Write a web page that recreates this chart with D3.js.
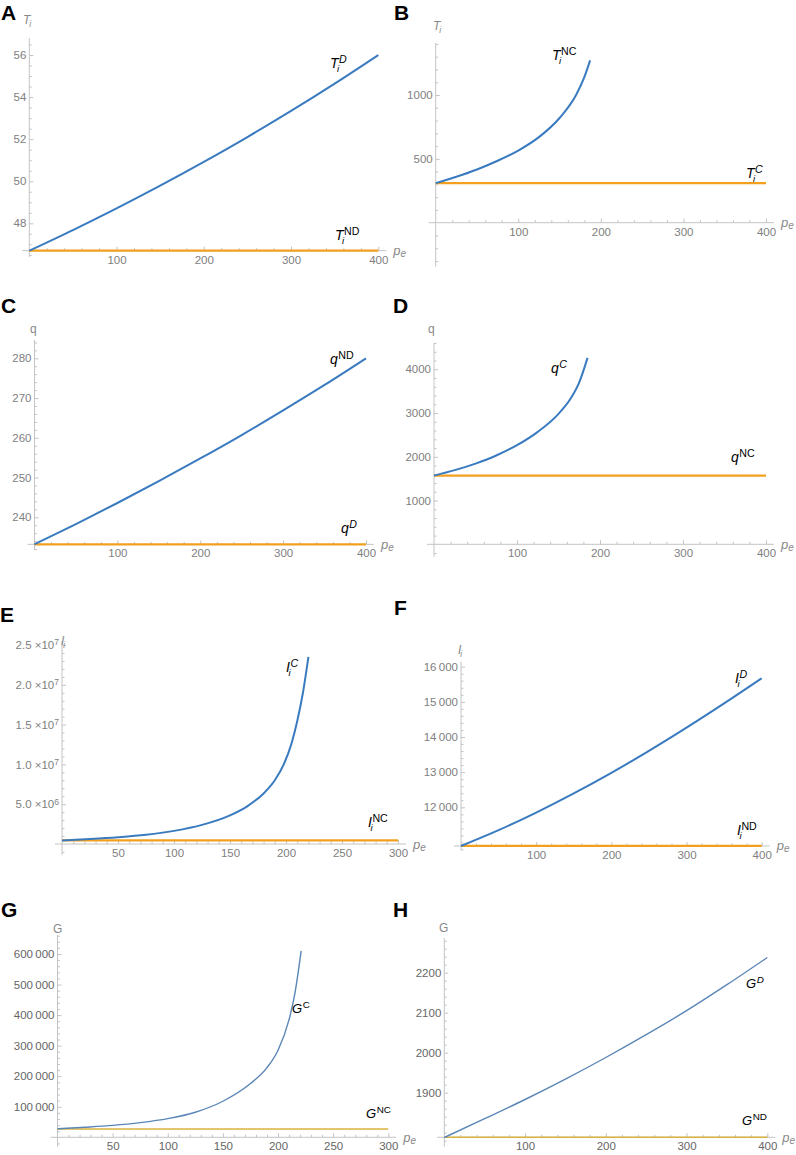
<!DOCTYPE html>
<html>
<head>
<meta charset="utf-8">
<script src="https://cdnjs.cloudflare.com/ajax/libs/d3/7.8.5/d3.min.js"></script>
<style>
  body { margin: 0; background: #fff; }
  svg { font-family: "Liberation Sans", Arial, sans-serif; }
</style>
</head>
<body>
<script>
// ---- values ----
// A: T_i vs p_e
var peA = [0, 50, 100, 150, 200, 250, 300, 350, 400];
var TiD = [46.7, 47.68, 48.71, 49.79, 50.92, 52.10, 53.34, 54.64, 56.0];
var TiND = 46.7;
// B
var peB = [0, 25, 50, 75, 100, 125, 150, 170, 180, 187];
var TiNC = [310, 360, 417, 485, 565, 670, 820, 1000, 1140, 1271];
var TiC = 310;
// C: q
var peC = [0, 50, 100, 150, 200, 250, 300, 350, 400];
var qND = [233.2, 238.3, 243.6, 249.1, 254.8, 260.7, 266.9, 273.3, 280.0];
var qD = 233.2;
// D
var peD = [0, 25, 50, 75, 100, 125, 150, 165, 175, 185];
var qC = [1570, 1695, 1845, 2030, 2265, 2570, 2982, 3342, 3702, 4262];
var qNC = 1570;
// E: I_i
var peE = [0, 25, 50, 75, 100, 125, 150, 165, 180, 190, 198, 205, 210, 215, 220];
var IC = [4.5e5, 6.2e5, 8.4e5, 1.15e6, 1.65e6, 2.4e6, 3.6e6, 4.7e6, 6.35e6, 8.0e6, 1.0e7, 1.266e7, 1.541e7, 1.891e7, 2.35e7];
var INC = 4.5e5;
// F
var peF = [0, 50, 100, 150, 200, 250, 300, 350, 400];
var ID = [10900, 11350, 11850, 12395, 12980, 13605, 14265, 14955, 15670];
var IND = 10900;
// G: G
var peG = [0, 25, 50, 75, 100, 125, 150, 175, 190, 200, 210, 215, 221];
var GC = [28000, 33000, 39000, 48000, 61000, 82000, 118000, 176000, 228000, 285000, 385000, 465000, 610000];
var GNC = 27000;
// H
var peH = [0, 50, 100, 150, 200, 250, 300, 350, 400];
var GD = [1788, 1835, 1883, 1934, 1988, 2045, 2105, 2170, 2238];
var GND = 1788.5;

// tick labels
var ticks400 = [100, 200, 300, 400];
var ticks300 = [50, 100, 150, 200, 250, 300];
var yTicksA = [48, 50, 52, 54, 56];
var yTicksB = [500, 1000];
var yTicksC = [240, 250, 260, 270, 280];
var yTicksD = [1000, 2000, 3000, 4000];
var yTicksE = [5e6, 1e7, 1.5e7, 2e7, 2.5e7];
var yTicksF = [12000, 13000, 14000, 15000, 16000];
var yTicksG = [100000, 200000, 300000, 400000, 500000, 600000];
var yTicksH = [1900, 2000, 2100, 2200];

var blue = "#3a7bc0", orange = "#f2a01e";
var blue2 = "#5a86b6", gold = "#d8b23e";

var svg = d3.select("body").append("svg")
  .attr("width", 796)
  .attr("height", 1155);

var grouped = d3.formatLocale({decimal: ".", thousands: "\u2009", grouping: [3], currency: ["", ""]}).format(",");

var panels = [
  {letter: "A", lp: [1, 20], xDom: [0, 400], xR: [29.3, 378.3], yDom: [48, 56], yR: [223.3, 55], cross: 46.7,
   yTop: 38, yBot: 257, xT: ticks400, xm: 20, yT: yTicksA, ym: 0.5, fmt: d3.format("d"),
   curve: [peA, TiD], flat: [[0, 400], TiND], c1: blue, c2: orange, w: 2,
   title: {t: "T", sub: "i", x: 23, y: 24, it: true},
   labels: [{m: "T", sub: "i", sup: "D", si: true, x: 330, y: 68}, {m: "T", sub: "i", sup: "ND", si: false, x: 335, y: 240}]},
  {letter: "B", lp: [394, 20], xDom: [0, 400], xR: [435.7, 766], yDom: [0, 1000], yR: [222.7, 95], cross: 0,
   yTop: 43, yBot: 266.7, xT: ticks400, xm: 20, yT: yTicksB, ym: 100, fmt: d3.format("d"),
   curve: [peB, TiNC], flat: [[0, 400], TiC], c1: blue, c2: orange, w: 2,
   title: {t: "T", sub: "i", x: 433, y: 30, it: true},
   labels: [{m: "T", sub: "i", sup: "NC", si: false, x: 552, y: 60}, {m: "T", sub: "i", sup: "C", si: true, x: 746, y: 178}]},
  {letter: "C", lp: [1, 313], xDom: [0, 400], xR: [34.5, 366], yDom: [240, 280], yR: [517.3, 358.3], cross: 233.2,
   yTop: 340, yBot: 550, xT: ticks400, xm: 20, yT: yTicksC, ym: 2, fmt: d3.format("d"),
   curve: [peC, qND], flat: [[0, 400], qD], c1: blue, c2: orange, w: 2,
   title: {t: "q", x: 30, y: 332.5, it: false},
   labels: [{m: "q", sup: "ND", si: false, x: 330, y: 364}, {m: "q", sup: "D", si: true, x: 341, y: 533}]},
  {letter: "D", lp: [393, 313], xDom: [0, 400], xR: [434, 766], yDom: [0, 4000], yR: [544.3, 369.3], cross: 0,
   yTop: 343, yBot: 556.7, xT: ticks400, xm: 20, yT: yTicksD, ym: 200, fmt: d3.format("d"),
   curve: [peD, qC], flat: [[0, 400], qNC], c1: blue, c2: orange, w: 2,
   title: {t: "q", x: 428, y: 332.5, it: false},
   labels: [{m: "q", sup: "C", si: true, x: 551, y: 373}, {m: "q", sup: "NC", si: false, x: 731, y: 462}]},
  {letter: "E", lp: [0, 621.5], xDom: [0, 300], xR: [62, 398], yDom: [0, 2.5e7], yR: [844, 645], cross: 0,
   yTop: 641, yBot: 855, xT: ticks300, xm: 10, yT: yTicksE, ym: 1e6, fmt: "sci",
   curve: [peE, IC], flat: [[0, 300], INC], c1: blue, c2: orange, w: 2,
   title: {t: "I", sub: "i", x: 61, y: 645, it: true},
   labels: [{m: "I", sub: "i", sup: "C", si: true, x: 286, y: 672}, {m: "I", sub: "i", sup: "NC", si: false, x: 368, y: 827}]},
  {letter: "F", lp: [394, 615], xDom: [0, 400], xR: [461, 761.7], yDom: [12000, 16000], yR: [807.3, 666.7], cross: 10900,
   yTop: 661.7, yBot: 850, xT: ticks400, xm: 20, yT: yTicksF, ym: 200, fmt: grouped,
   curve: [peF, ID], flat: [[0, 400], IND], c1: blue, c2: orange, w: 2,
   title: {t: "I", sub: "i", x: 458, y: 654, it: true},
   labels: [{m: "I", sub: "i", sup: "D", si: true, x: 735, y: 683}, {m: "I", sub: "i", sup: "ND", si: false, x: 737, y: 835}]},
  {letter: "G", lp: [1, 916.5], xDom: [0, 300], xR: [57.5, 388.3], yDom: [0, 600000], yR: [1137.3, 954], cross: 0,
   yTop: 935, yBot: 1146.7, xT: ticks300, xm: 10, yT: yTicksG, ym: 20000, fmt: grouped, dark: true,
   curve: [peG, GC], flat: [[0, 300], GNC], c1: blue2, c2: gold, w: 1.4,
   title: {t: "G", x: 53, y: 933, it: false},
   labels: [{m: "G", sup: "C", si: false, x: 292, y: 1013}, {m: "G", sup: "NC", si: false, x: 366, y: 1118}]},
  {letter: "H", lp: [393, 916.5], xDom: [0, 400], xR: [444.3, 767.3], yDom: [1900, 2200], yR: [1092.7, 972.7], cross: 1788.5,
   yTop: 938, yBot: 1146.7, xT: ticks400, xm: 20, yT: yTicksH, ym: 20, fmt: d3.format("d"), dark: true,
   curve: [peH, GD], flat: [[0, 400], GND], c1: blue2, c2: gold, w: 1.4,
   title: {t: "G", x: 439, y: 932, it: false},
   labels: [{m: "G", sup: "D", si: true, x: 746, y: 988}, {m: "G", sup: "ND", si: false, x: 742, y: 1125}]}
];

function minorVals(lo, hi, step, majors) {
  var out = [];
  var start = Math.ceil(lo / step - 1e-9) * step;
  for (var v = start; v <= hi + 1e-9; v += step) {
    var isMajor = majors.some(function(m) { return Math.abs(m - v) < step * 0.01; });
    if (!isMajor && Math.abs(v) > step * 0.01) out.push(v);
  }
  return out;
}

function curveLabel(g, l, size) {
  var t = g.append("text")
    .attr("x", l.x).attr("y", l.y)
    .attr("font-size", size).attr("font-style", "italic")
    .text(l.m);
  var w = t.node().getComputedTextLength();
  if (l.sub) {
    g.append("text").attr("x", l.x + w - 1.5).attr("y", l.y + 3.5)
      .attr("font-size", size * 0.68).attr("font-style", "italic").text(l.sub);
  }
  g.append("text").attr("x", l.x + w + 0.5).attr("y", l.y - 5.5)
    .attr("font-size", size * 0.76).attr("font-style", l.si ? "italic" : "normal").text(l.sup);
}

function drawPanel(p) {
  var g = svg.append("g");
  var x = d3.scaleLinear().domain(p.xDom).range(p.xR);
  var y = d3.scaleLinear().domain(p.yDom).range(p.yR);
  var ox = x(0), oy = y(p.cross);
  var axisCol = "#c4c4c4";
  var labCol = p.dark ? "#666" : "#808080";

  // axis lines
  g.append("line").attr("x1", ox - 7).attr("x2", p.xR[1] + 8)
    .attr("y1", oy).attr("y2", oy).attr("stroke", axisCol);
  g.append("line").attr("x1", ox).attr("x2", ox)
    .attr("y1", p.yTop).attr("y2", p.yBot).attr("stroke", axisCol);

  // x ticks
  var xa = g.append("g").attr("transform", "translate(0," + oy + ")")
    .style("color", axisCol)
    .call(d3.axisBottom(x).tickValues(p.xT).tickSize(-4).tickPadding(5).tickFormat(d3.format("d")));
  xa.select(".domain").remove();
  xa.selectAll("text").attr("fill", labCol).attr("font-size", 11.5).attr("font-family", null);
  var xm = g.append("g").attr("transform", "translate(0," + oy + ")")
    .style("color", axisCol)
    .call(d3.axisBottom(x).tickValues(minorVals(0, p.xDom[1], p.xm, p.xT)).tickSize(-2.5).tickFormat(""));
  xm.select(".domain").remove();

  // y ticks
  var ya = g.append("g").attr("transform", "translate(" + ox + ",0)")
    .style("color", axisCol)
    .call(d3.axisLeft(y).tickValues(p.yT).tickSize(-4).tickPadding(3)
      .tickFormat(p.fmt === "sci" ? function() { return ""; } : p.fmt));
  ya.select(".domain").remove();
  ya.selectAll("text").attr("fill", labCol).attr("font-size", 11.5).attr("font-family", null);
  if (p.fmt === "sci") {
    ya.selectAll("text").each(function(d) {
      var e = Math.floor(Math.log10(d) + 1e-9);
      var m = (d / Math.pow(10, e)).toFixed(1);
      var t = d3.select(this);
      t.append("tspan").text(m + " \u00d710");
      t.append("tspan").attr("dy", "-0.45em").attr("font-size", 8.5).text(e);
    });
  }
  var yLo = y.invert(p.yBot), yHi = y.invert(p.yTop);
  var ym = g.append("g").attr("transform", "translate(" + ox + ",0)")
    .style("color", axisCol)
    .call(d3.axisLeft(y).tickValues(minorVals(Math.min(yLo, yHi), Math.max(yLo, yHi), p.ym, p.yT.concat([p.cross])))
      .tickSize(-2.5).tickFormat(""));
  ym.select(".domain").remove();

  // series
  var line = d3.line().x(function(d) { return x(d[0]); }).y(function(d) { return y(d[1]); })
    .curve(d3.curveMonotoneX);
  g.append("path")
    .datum(p.flat[0].map(function(v) { return [v, p.flat[1]]; }))
    .attr("d", line).attr("fill", "none").attr("stroke", p.c2).attr("stroke-width", p.w + 0.2);
  g.append("path")
    .datum(p.curve[0].map(function(v, i) { return [v, p.curve[1][i]]; }))
    .attr("d", line).attr("fill", "none").attr("stroke", p.c1).attr("stroke-width", p.w);

  // axis titles
  var tt = g.append("text").attr("x", p.title.x).attr("y", p.title.y)
    .attr("font-size", 12).attr("fill", "#888")
    .attr("font-style", p.title.it ? "italic" : "normal").text(p.title.t);
  if (p.title.sub) {
    var tw = tt.node().getComputedTextLength();
    g.append("text").attr("x", p.title.x + tw - 1).attr("y", p.title.y + 3)
      .attr("font-size", 8.5).attr("fill", "#888").attr("font-style", "italic").text(p.title.sub);
  }
  var pe = g.append("text").attr("x", p.xR[1] + 15).attr("y", oy + 4.5)
    .attr("font-size", 13).attr("fill", "#888").attr("font-style", "italic");
  pe.append("tspan").text("p");
  pe.append("tspan").attr("dy", 2).attr("font-size", 10).text("e");

  // curve labels
  p.labels.forEach(function(l) { curveLabel(g, l, p.dark ? 13 : 14); });

  // panel letter
  svg.append("text").attr("x", p.lp[0]).attr("y", p.lp[1])
    .attr("font-size", 21).attr("font-weight", "bold").text(p.letter);
}

panels.forEach(drawPanel);
</script>
</body>
</html>
